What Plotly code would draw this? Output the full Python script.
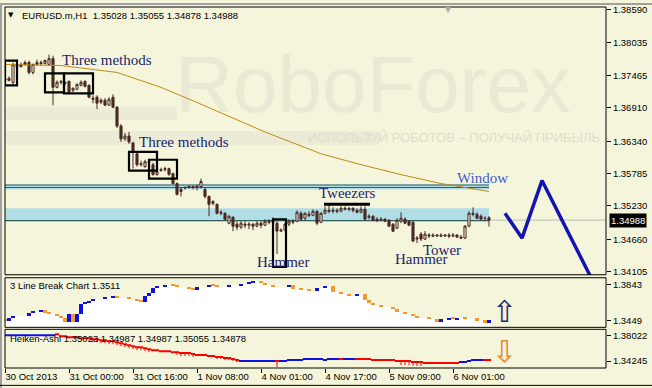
import plotly.graph_objects as go

# ---------------- data (EURUSD.m, H1) ----------------
open_ = [1.37417,1.37383,1.37349,1.37638,1.37621,1.37655,1.37689,1.37519,1.37655,1.37689,
         1.37672,1.37655,1.37757,1.37264,1.37349,1.37349,1.37366,1.37213,1.37230,1.37298,
         1.37366,1.37298,1.37077,1.37094,1.37009,1.37043,1.36958,1.37094,1.36924,1.36601,
         1.36380,1.36431,1.36312,1.36125,1.35938,1.35904,1.35989,1.35938,1.35768,1.35836,
         1.35853,1.35870,1.35785,1.35615,1.35479,1.35547,1.35547,1.35564,1.35547,1.35564,
         1.35513,1.35394,1.35275,1.35258,1.35105,1.35105,1.34935,1.35037,1.34918,1.34867,
         1.34918,1.34901,1.34918,1.34884,1.34935,1.34901,1.34969,1.34952,1.34935,1.34799,
         1.34816,1.34918,1.34952,1.34969,1.35105,1.35020,1.35088,1.35071,1.35139,1.34952,
         1.35105,1.35156,1.35139,1.35156,1.35139,1.35190,1.35173,1.35190,1.35156,1.35122,
         1.35173,1.35037,1.35054,1.35003,1.34986,1.35003,1.34986,1.34918,1.34850,1.34969,
         1.35003,1.34969,1.34952,1.34663,1.34748,1.34663,1.34714,1.34731,1.34714,1.34731,
         1.34714,1.34731,1.34714,1.34731,1.34697,1.34680,1.34884,1.35105,1.35088,1.35054,
         1.35020,1.35028]
close_ = [1.37383,1.37417,1.37655,1.37621,1.37655,1.37689,1.37519,1.37655,1.37689,1.37672,
          1.37723,1.37757,1.37264,1.37349,1.37366,1.37332,1.37179,1.37247,1.37315,1.37349,
          1.37281,1.37094,1.37060,1.36992,1.37043,1.36958,1.37060,1.36924,1.36601,1.36380,
          1.36431,1.36329,1.36159,1.35938,1.35955,1.35989,1.35972,1.35768,1.35819,1.35853,
          1.35870,1.35768,1.35615,1.35428,1.35513,1.35540,1.35564,1.35547,1.35564,1.35649,
          1.35394,1.35258,1.35309,1.35105,1.35122,1.35003,1.35054,1.34884,1.34867,1.34935,
          1.34901,1.34918,1.34884,1.34935,1.34901,1.34969,1.34952,1.34986,1.34799,1.34816,
          1.34918,1.34969,1.34969,1.35122,1.35003,1.35105,1.35071,1.35139,1.34935,1.35105,
          1.35156,1.35139,1.35156,1.35139,1.35190,1.35173,1.35190,1.35156,1.35122,1.35173,
          1.35003,1.35054,1.34986,1.34986,1.35003,1.34969,1.34884,1.34799,1.34986,1.35020,
          1.34935,1.34901,1.34629,1.34680,1.34663,1.34748,1.34731,1.34714,1.34731,1.34714,
          1.34731,1.34714,1.34731,1.34697,1.34680,1.34884,1.35105,1.35088,1.35020,1.35003,
          1.35015,1.34988]
high_ = [1.37451,1.37451,1.37689,1.37672,1.37689,1.37723,1.37723,1.37672,1.37740,1.37723,
         1.37740,1.37825,1.37808,1.37383,1.37383,1.37366,1.37383,1.37264,1.37332,1.37383,
         1.37383,1.37315,1.37128,1.37128,1.37077,1.37077,1.37094,1.37145,1.36941,1.36635,
         1.36482,1.36499,1.36329,1.36159,1.36006,1.36023,1.36040,1.35972,1.35853,1.35887,
         1.35904,1.35887,1.35802,1.35632,1.35547,1.35564,1.35581,1.35581,1.35598,1.35700,
         1.35547,1.35411,1.35326,1.35275,1.35156,1.35122,1.35071,1.35054,1.34969,1.34969,
         1.34969,1.34952,1.34935,1.34969,1.34969,1.35003,1.35003,1.35037,1.34969,1.34850,
         1.34935,1.35003,1.35003,1.35156,1.35139,1.35122,1.35139,1.35173,1.35156,1.35122,
         1.35224,1.35241,1.35207,1.35190,1.35224,1.35224,1.35207,1.35207,1.35190,1.35224,
         1.35224,1.35088,1.35071,1.35037,1.35037,1.35020,1.35003,1.34935,1.35020,1.35122,
         1.35037,1.34986,1.34969,1.34714,1.34782,1.34799,1.34765,1.34765,1.34748,1.34765,
         1.34748,1.34765,1.34765,1.34748,1.34731,1.34901,1.35139,1.35207,1.35122,1.35088,
         1.35054,1.35055]
low_ = [1.37349,1.37366,1.37315,1.37587,1.37604,1.37638,1.37485,1.37485,1.37638,1.37638,
        1.37655,1.37638,1.36958,1.37247,1.37315,1.37298,1.37162,1.37179,1.37213,1.37281,
        1.37264,1.37077,1.36992,1.36890,1.36975,1.36941,1.36941,1.36907,1.36567,1.36329,
        1.36346,1.36295,1.35870,1.35904,1.35904,1.35887,1.35938,1.35751,1.35751,1.35819,
        1.35819,1.35751,1.35598,1.35411,1.35394,1.35513,1.35530,1.35513,1.35496,1.35530,
        1.35360,1.35054,1.35241,1.35088,1.35071,1.34986,1.34918,1.34799,1.34816,1.34833,
        1.34850,1.34833,1.34816,1.34867,1.34850,1.34884,1.34918,1.34935,1.34408,1.34782,
        1.34799,1.34884,1.34918,1.34952,1.34986,1.34986,1.35037,1.35054,1.34901,1.34935,
        1.35088,1.35105,1.35105,1.35105,1.35122,1.35156,1.35139,1.35122,1.35105,1.35105,
        1.34986,1.35003,1.34969,1.34952,1.34969,1.34952,1.34867,1.34782,1.34833,1.34935,
        1.34918,1.34884,1.34612,1.34595,1.34629,1.34646,1.34680,1.34697,1.34697,1.34697,
        1.34697,1.34680,1.34697,1.34680,1.34663,1.34663,1.34867,1.35054,1.35003,1.34986,
        1.34969,1.34878]

ma_bars = [0, 14, 28, 39, 49, 59, 65, 79, 89, 99, 109, 121]
ma_values = [1.37655, 1.37638, 1.37519, 1.37264, 1.36975, 1.36669, 1.36499,
             1.36125, 1.35938, 1.35768, 1.35615, 1.35479]

forecast_bars = [125, 129.25, 134.25, 146.4]
forecast_prices = [1.35105, 1.34680, 1.35666, 1.34017]

lb_level = [1.3449, 1.3482, 1.3504, 1.3504, 1.3504, 1.3504, 1.3537, 1.3558, 1.3558, 1.3569,
            1.3537, 1.3526, 1.3526, 1.3504, 1.3482, 1.3438, 1.3526, 1.3438, 1.3526, 1.3635,
            1.3657, 1.3668, 1.3690, 1.3690, 1.3690, 1.3712, 1.3712, 1.3723, 1.3701, 1.3701,
            1.3701, 1.3690, 1.3690, 1.3668, 1.3657, 1.3723, 1.3755, 1.3810, 1.3832, 1.3832,
            1.3843, 1.3843, 1.3832, 1.3821, 1.3821, 1.3821, 1.3799, 1.3788, 1.3821, 1.3821,
            1.3821, 1.3843, 1.3832, 1.3821, 1.3821, 1.3821, 1.3843, 1.3843, 1.3843, 1.3854,
            1.3854, 1.3876, 1.3887, 1.3887, 1.3865, 1.3843, 1.3843, 1.3821, 1.3821, 1.3821,
            1.3821, 1.3843, 1.3799, 1.3799, 1.3788, 1.3788, 1.3777, 1.3777, 1.3810, 1.3810,
            1.3832, 1.3832, 1.3766, 1.3766, 1.3745, 1.3745, 1.3723, 1.3723, 1.3745, 1.3745,
            1.3679, 1.3646, 1.3624, 1.3624, 1.3602, 1.3602, 1.3602, 1.3580, 1.3547, 1.3547,
            1.3526, 1.3526, 1.3504, 1.3482, 1.3482, 1.3482, 1.3471, 1.3471, 1.3438, 1.3471,
            1.3471, 1.3482, 1.3465, 1.3482, 1.3482, 1.3465, 1.3465, 1.3465, 1.3454, 1.3454,
            1.3427, 1.3460]

ha_value = [1.38022] * 13 + [1.38167,
            1.37877, 1.37877, 1.37731, 1.37731, 1.37731, 1.37586, 1.37586, 1.37586, 1.37441, 1.37441,
            1.37296, 1.37296, 1.37150, 1.37150, 1.37005, 1.36860, 1.36714, 1.36569, 1.36424, 1.36278,
            1.36278, 1.36133, 1.35988, 1.35843, 1.35843, 1.35698, 1.35698, 1.35698, 1.35552, 1.35552,
            1.35407, 1.35407, 1.35407, 1.35262, 1.35117, 1.35117, 1.35117, 1.34971, 1.34971, 1.34826,
            1.34826, 1.34681, 1.34681, 1.34535, 1.34390] + [1.34245] * 12 + [1.34390] * 4 + \
           [1.34535] * 5 + [1.34390] + [1.34535] * 11 + [1.34390] * 6 + [1.34245] * 4 + \
           [1.34100] * 3 + [1.33954] * 9 + [1.34100] * 2 + [1.34245] + [1.34390] * 5
ha_bull = [1] * 13 + [0] * 46 + [1] * 9 + [0] + [1] * 11 + [1] * 4 + [0] + [1] * 3 + \
          [0] * 26 + [1] * 6 + [0] * 2
ha_wick_bars = [22, 23, 24, 25, 26, 27, 28, 29, 30, 31, 32, 33, 34, 35, 36,
                43, 44, 45, 46, 47, 53, 54, 55, 56, 57, 58, 68, 99, 100, 101, 102, 103, 104]
ha_wick_low = [1.37005, 1.37005, 1.36860, 1.36860, 1.36714, 1.36714, 1.36569, 1.36424, 1.36278,
               1.36133, 1.35988, 1.35843, 1.35843, 1.35698, 1.35552,
               1.35117, 1.34971, 1.34971, 1.34971, 1.34826, 1.34535, 1.34535, 1.34390, 1.34390,
               1.34245, 1.34100, 1.33373, 1.33664, 1.33664, 1.33664, 1.33518, 1.33518, 1.33518]

time_ticks = [0, 16, 32, 48, 64, 80, 96, 112]
time_labels = ["30 Oct 2013", "31 Oct 00:00", "31 Oct 16:00", "1 Nov 08:00",
               "4 Nov 01:00", "4 Nov 17:00", "5 Nov 09:00", "6 Nov 01:00"]
price_ticks = [1.38590, 1.38035, 1.37465, 1.36910, 1.36340, 1.35785, 1.35230, 1.34660, 1.34105]
lb_ticks = [1.3843, 1.3449]
ha_ticks = [1.38022, 1.34245]
last_price = 1.34988

zone_bars = [-1, 121]
window_zone = [1.35513, 1.35598]
window_lines = [1.35590, 1.35547]
support_zone = [1.34969, 1.35190]
support_line = 1.34978

pattern_boxes = [(0, 3, 1.37723, 1.37298), (10, 14.75, 1.37502, 1.37179),
                 (14.75, 22, 1.37502, 1.37162), (31, 38, 1.36159, 1.35836),
                 (36, 43, 1.36023, 1.35700), (67, 70.25, 1.35003, 1.34187)]
tweezers_bar = (79.75, 91.25, 1.35258)
pattern_labels = [("Three methods", 13.75, 1.37740), ("Three methods", 33, 1.36329),
                  ("Tweezers", 78, 1.35445), ("Window", 112.5, 1.35717),
                  ("Hammer", 62.5, 1.34272), ("Hammer", 97, 1.34323), ("Tower", 104, 1.34476)]

# ---------------- styling ----------------
W, H = 652, 388
ML, MR, MT, MB = 5, 46, 4, 20
BG = "#F5F5DC"
CANDLE = "#4A2A24"
BLUE_Z = "#B0DDE6"
ZLINE = "#2F5F5F"
SANS = "Liberation Sans, Arial, sans-serif"
SERIF = "Liberation Serif, Times New Roman, serif"
TXT = "#1B1F6B"


def X(px):
    return (px - ML) / (W - ML - MR)


def Y(py):
    return (H - MB - py) / (H - MT - MB)


idx = list(range(len(open_)))
fig = go.Figure()

# watermark (below everything)
fig.add_trace(go.Scatter(x=[92], y=[1.37179], mode="text", text=["RoboForex"],
                         textfont=dict(family="Liberation Sans, Arial", size=80, color="#E9E9D4"),
                         hoverinfo="skip", xaxis="x", yaxis="y"))
fig.add_trace(go.Scatter(x=[112.25], y=[1.36380], mode="text",
                         text=["ИСПОЛЬЗУЙ РОБОТОВ – ПОЛУЧАЙ ПРИБЫЛЬ"],
                         textfont=dict(family=SANS, size=13, color="#DEDECB"),
                         hoverinfo="skip", xaxis="x", yaxis="y"))

# candles
fig.add_trace(go.Candlestick(
    x=idx, open=open_, high=high_, low=low_, close=close_,
    increasing=dict(line=dict(color=CANDLE, width=1), fillcolor=BG),
    decreasing=dict(line=dict(color=CANDLE, width=1), fillcolor=CANDLE),
    whiskerwidth=0, hoverinfo="skip", xaxis="x", yaxis="y"))

# moving average
fig.add_trace(go.Scatter(x=ma_bars, y=ma_values, mode="lines",
                         line=dict(color="#C28A10", width=1), hoverinfo="skip",
                         xaxis="x", yaxis="y"))

# forecast zigzag
fig.add_trace(go.Scatter(x=forecast_bars, y=forecast_prices, mode="lines",
                         line=dict(color="#1414B0", width=3.5), hoverinfo="skip",
                         xaxis="x", yaxis="y"))

# ---- 3 Line Break panel ----
lb_base = 1.3360
fig.add_trace(go.Bar(x=idx, y=[v - lb_base for v in lb_level], base=[lb_base] * len(idx),
                     width=1.0, marker=dict(color="white", line=dict(width=0)),
                     hoverinfo="skip", xaxis="x", yaxis="y2"))
minh = 0.0022
bx, bb, bh, bc = [], [], [], []
for i, lv in enumerate(lb_level):
    pv = lb_level[i - 1] if i > 0 else lv + minh
    if lv == pv:
        continue
    if lv > pv:
        lo, hi, col = pv, lv, "#1010E0"
        if hi - lo < minh:
            lo = hi - minh
    else:
        lo, hi, col = lv, pv, "#F29A2E"
        if hi - lo < minh:
            hi = lo + minh
    bx.append(i); bb.append(lo); bh.append(hi - lo); bc.append(col)
fig.add_trace(go.Bar(x=bx, y=bh, base=bb, width=0.95,
                     marker=dict(color=bc, line=dict(width=0)),
                     hoverinfo="skip", xaxis="x", yaxis="y2"))

# ---- Heiken-Ashi panel ----
wx, wy = [], []
for b, lo in zip(ha_wick_bars, ha_wick_low):
    wx += [b, b, None]
    wy += [ha_value[b], lo, None]
fig.add_trace(go.Scatter(x=wx, y=wy, mode="lines", line=dict(color="#FF0000", width=1),
                         hoverinfo="skip", xaxis="x", yaxis="y3"))
for flag, col in [(1, "#1010E0"), (0, "#FF0000")]:
    xs = [i for i in idx if ha_bull[i] == flag]
    ys = [ha_value[i] for i in idx if ha_bull[i] == flag]
    fig.add_trace(go.Scatter(x=xs, y=ys, mode="markers",
                             marker=dict(symbol="line-ew", size=3,
                                         line=dict(color=col, width=2)),
                             hoverinfo="skip", xaxis="x", yaxis="y3"))

# ---------------- shapes ----------------
shapes = []
shapes.append(dict(type="rect", xref="x", yref="y", x0=0, x1=43, y0=1.36703, y1=1.36924,
                   fillcolor="#EBEBD6", line=dict(width=0), layer="below"))
shapes.append(dict(type="rect", xref="x", yref="y", x0=0, x1=93.75, y0=1.36278, y1=1.36516,
                   fillcolor="#EBEBD6", line=dict(width=0), layer="below"))
shapes.append(dict(type="line", xref="paper", yref="y", x0=0, x1=1, y0=last_price, y1=last_price,
                   line=dict(color="#BDBDBD", width=1), layer="below"))
shapes.append(dict(type="rect", xref="x", yref="y", x0=zone_bars[0], x1=zone_bars[1],
                   y0=window_zone[0], y1=window_zone[1], fillcolor=BLUE_Z,
                   line=dict(width=0), layer="below"))
for lv in window_lines:
    shapes.append(dict(type="line", xref="x", yref="y", x0=zone_bars[0], x1=zone_bars[1],
                       y0=lv, y1=lv, line=dict(color=ZLINE, width=1.2), layer="below"))
shapes.append(dict(type="rect", xref="x", yref="y", x0=zone_bars[0], x1=zone_bars[1],
                   y0=support_zone[0], y1=support_zone[1], fillcolor=BLUE_Z,
                   line=dict(width=0), layer="below"))
shapes.append(dict(type="line", xref="x", yref="y", x0=zone_bars[0], x1=zone_bars[1],
                   y0=support_line, y1=support_line, line=dict(color=ZLINE, width=1.2),
                   layer="below"))
for x0, x1, ptop, pbot in pattern_boxes:
    shapes.append(dict(type="rect", xref="x", yref="y", x0=x0, x1=x1, y0=pbot, y1=ptop,
                       line=dict(color="black", width=2.2), fillcolor="rgba(0,0,0,0)"))
shapes.append(dict(type="line", xref="x", yref="y", x0=tweezers_bar[0], x1=tweezers_bar[1],
                   y0=tweezers_bar[2], y1=tweezers_bar[2], line=dict(color="black", width=3)))
for ax in ["y", "y2", "y3"]:
    shapes.append(dict(type="rect", xref="paper", yref=ax + " domain", x0=0, x1=1, y0=0, y1=1,
                       line=dict(color="black", width=1), fillcolor="rgba(0,0,0,0)"))
shapes.append(dict(type="rect", xref="paper", yref="paper", x0=X(0), x1=X(652), y0=Y(0), y1=Y(2),
                   fillcolor="#A0A0A0", line=dict(width=0)))
shapes.append(dict(type="rect", xref="paper", yref="paper", x0=X(0), x1=X(2), y0=Y(388), y1=Y(0),
                   fillcolor="#A0A0A0", line=dict(width=0)))
shapes.append(dict(type="line", xref="paper", yref="paper", x0=X(0), x1=X(652), y0=Y(385.5), y1=Y(385.5),
                   line=dict(color="black", width=1)))

# ---------------- annotations ----------------
ann = []
for text, bx0, pv in pattern_labels:
    ann.append(dict(text=text, x=bx0, y=pv, xref="x", yref="y", xanchor="left", yanchor="middle",
                    showarrow=False,
                    font=dict(family=SERIF, size=15, color="#3F5FD0" if text == "Window" else TXT)))
ann.append(dict(text="▼", x=X(11), y=Y(12), xref="paper", yref="paper", showarrow=False,
                xanchor="center", yanchor="middle", font=dict(family="DejaVu Sans", size=7, color="black")))
ann.append(dict(text="EURUSD.m,H1\u00a0 1.35028 1.35055 1.34878 1.34988", x=X(20), y=Y(12.5),
                xref="paper", yref="paper", showarrow=False, xanchor="left", yanchor="middle",
                font=dict(family=SANS, size=9.5, color="black")))
ann.append(dict(text="▼", x=X(448), y=Y(7), xref="paper", yref="paper", showarrow=False,
                xanchor="center", yanchor="middle", font=dict(family="DejaVu Sans", size=8, color="#A8A8A8")))
ann.append(dict(text="3 Line Break Chart 1.3511", x=X(8), y=Y(285), xref="paper", yref="paper",
                showarrow=False, xanchor="left", yanchor="middle",
                font=dict(family=SANS, size=9.5, color="black")))
ann.append(dict(text="Heiken-Ashi 1.35023 1.34987 1.34987 1.35055 1.34878", x=X(8), y=Y(338),
                xref="paper", yref="paper", showarrow=False, xanchor="left", yanchor="middle",
                font=dict(family=SANS, size=9.5, color="black")))
ann.append(dict(text="1.34988", x=1, y=last_price, xref="paper", yref="y", xanchor="left",
                yanchor="middle", xshift=3, showarrow=False, bgcolor="black", borderpad=1,
                font=dict(family=SANS, size=9.5, color="white")))
ann.append(dict(text="⇧", x=X(504.5), y=Y(311.5), xref="paper", yref="paper", showarrow=False,
                xanchor="center", yanchor="middle", font=dict(family="DejaVu Sans", size=30, color="#28286E")))
ann.append(dict(text="⇩", x=X(504.5), y=Y(351.5), xref="paper", yref="paper", showarrow=False,
                xanchor="center", yanchor="middle", font=dict(family="DejaVu Sans", size=30, color="#E08A2C")))

axis_common = dict(showgrid=False, zeroline=False, showline=False, side="right", anchor="x",
                   ticks="outside", ticklen=4, tickcolor="black",
                   tickfont=dict(family=SANS, size=9.5, color="black"))

fig.update_layout(
    width=W, height=H, margin=dict(l=ML, r=MR, t=MT, b=MB),
    paper_bgcolor=BG, plot_bgcolor=BG, showlegend=False,
    barmode="overlay", bargap=0, boxgap=0.25,
    xaxis=dict(domain=[0, 1], range=[0, 150.25], anchor="y3", showgrid=False, zeroline=False,
               showline=False, tickvals=time_ticks, ticktext=time_labels, ticks="outside",
               ticklen=4, tickcolor="black", ticklabelposition="outside right",
               tickfont=dict(family=SANS, size=9.5, color="black"),
               rangeslider=dict(visible=False)),
    yaxis=dict(domain=[Y(274), 1], range=[1.34051, 1.38641], tickvals=price_ticks,
               tickformat=".5f", **axis_common),
    yaxis2=dict(domain=[Y(327), Y(277)], range=[1.33724, 1.39196], tickvals=lb_ticks,
                tickformat=".4f", **axis_common),
    yaxis3=dict(domain=[0, Y(329)], range=[1.33228, 1.38894], tickvals=ha_ticks,
                tickformat=".5f", **axis_common),
    shapes=shapes, annotations=ann, hovermode=False,
)

fig.write_html("out.html", config={"displayModeBar": False},
               post_script="document.body.style.margin='0';document.body.style.background='#F5F5DC';")
